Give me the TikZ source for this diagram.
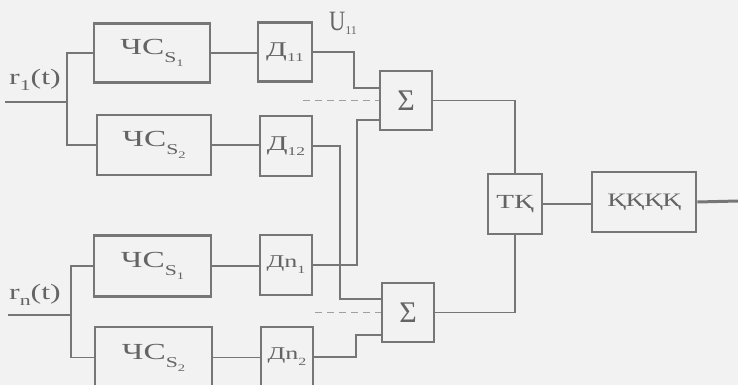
\documentclass[tikz,border=0pt]{standalone}
\usepackage{fontspec}
\usepackage{graphicx}
\setmainfont[FakeStretch=1.45]{Liberation Serif}
\newfontfamily\plainfont{Liberation Serif}
\usetikzlibrary{calc}
\definecolor{ln}{RGB}{118,118,118}
\definecolor{tx}{RGB}{100,100,100}
\definecolor{bg}{RGB}{242,242,242}
\newcommand{\fs}[1]{\fontsize{#1}{#1}\selectfont}
\newcommand{\chs}[1]{\fs{23}ЧС\raisebox{-8pt}{\fs{15}S\raisebox{-4pt}{\fs{10}#1}}}
\newcommand{\dd}[1]{\fs{21}Д\raisebox{-5pt}{\fs{12}#1}}
\newcommand{\ddn}[1]{\fs{18}Д\fs{18}n\raisebox{-6pt}{\fs{11}#1}}
\begin{document}
\begin{tikzpicture}[x=1pt,y=-1pt,
  box/.style={draw=ln,line width=2.7pt,rectangle,inner sep=0pt,text=tx},
  wire/.style={draw=ln,line width=1.5pt},
  dwire/.style={draw=ln!70,line width=1.3pt,dash pattern=on 7pt off 5pt},
  lbl/.style={text=tx,inner sep=0pt}]
\fill[bg] (0,0) rectangle (738,385);
\useasboundingbox (0,0) rectangle (738,385);
\clip (0,0) rectangle (738,385);
% boxes
\node[box,minimum width=116pt,minimum height=59pt] (c11) at (152,53) {\chs{1}};
\node[box,minimum width=114pt,minimum height=60pt] (c12) at (154,145) {\chs{2}};
\node[box,minimum width=54pt,minimum height=59pt] (d11) at (285,52) {\dd{11}};
\node[box,minimum width=52pt,minimum height=60pt] (d12) at (286,146) {\dd{12}};
\node[box,minimum width=117pt,minimum height=61pt] (cn1) at (152.5,266) {\chs{1}};
\node[box,minimum width=52pt,minimum height=60pt] (dn1) at (286,265) {\ddn{1}};
\node[box,minimum width=117pt,minimum height=61pt] (cn2) at (153.5,357.5) {\chs{2}};
\node[box,minimum width=52pt,minimum height=60pt] (dn2) at (287,357) {\ddn{2}};
\node[box,minimum width=52pt,minimum height=59pt] (s1) at (406,100.5) {\plainfont\fs{30}Σ};
\node[box,minimum width=52pt,minimum height=59pt] (s2) at (408,312.5) {\plainfont\fs{30}Σ};
\node[box,minimum width=54pt,minimum height=60pt] (tk) at (515,204) {\fs{20}ТҚ};
\node[box,minimum width=104pt,minimum height=60pt] (kk) at (644,202) {\fs{19}ҚҚҚҚ};
% labels
\node[lbl] (lr1) at (35,80) {\fs{22}r\raisebox{-6pt}{\fs{15}1}(t)};
\node[lbl] (lrn) at (35,295) {\fs{22}r\raisebox{-6pt}{\fs{15}n}(t)};
\node[lbl] (lu) at (343,23) {\plainfont\scalebox{0.8}[1]{\fs{28}U}\raisebox{-4pt}{\fs{12}11}};
% coordinates
\coordinate (in1) at (5,102);
\coordinate (j1) at (67,102);
\coordinate (inn) at (8,315);
\coordinate (jn) at (71,315);
\coordinate (k1) at (354,88);
\coordinate (k3) at (357,120);
\coordinate (k2) at (340,299);
\coordinate (k4) at (356,335);
\coordinate (ds1) at (303,100.5);
\coordinate (ds2) at (315,312.5);
\coordinate (out) at (738,201);
% wires
\draw[wire] (in1) -- (j1);
\draw[wire] (c11.west) -| (j1) |- (c12.west);
\draw[wire] (inn) -- (jn);
\draw[wire] (cn1.west) -| (jn) |- (cn2.west);
\draw[wire] (c11.east) -- (c11.east -| d11.west);
\draw[wire] (c12.east) -- (c12.east -| d12.west);
\draw[wire] (cn1.east) -- (cn1.east -| dn1.west);
\draw[wire] (cn2.east) -- (cn2.east -| dn2.west);
\draw[wire] (d11.east) -| (k1) -- (k1 -| s1.west);
\draw[wire] (dn1.east) -| (k3) -- (k3 -| s1.west);
\draw[wire] (d12.east) -| (k2) -- (k2 -| s2.west);
\draw[wire] (dn2.east) -| (k4) -- (k4 -| s2.west);
\draw[dwire] (ds1) -- (s1.west);
\draw[dwire] (ds2) -- (s2.west);
\draw[wire] (s1.east) -| (tk.north);
\draw[wire] (s2.east) -| (tk.south);
\draw[wire] (tk.east) -- (tk.east -| kk.west);
\draw[draw=ln,line width=3pt] (kk.east) -- (out);
\end{tikzpicture}
\end{document}
